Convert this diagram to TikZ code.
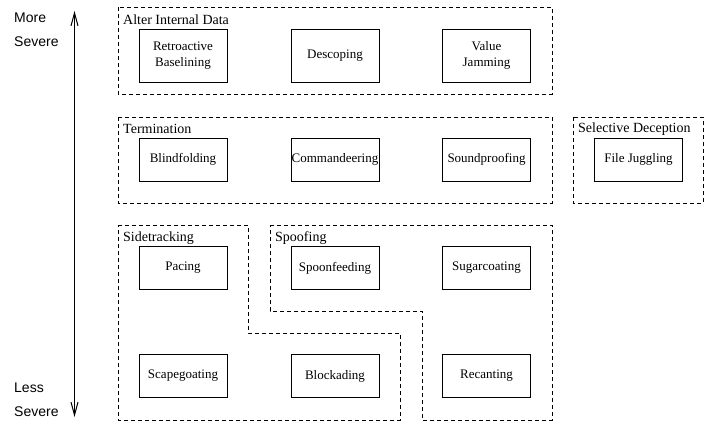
\documentclass[tikz,border=0pt]{standalone}
\usepackage{fontspec}
\setmainfont{Liberation Serif}
\newfontfamily\labsans{Liberation Sans}
\usetikzlibrary{arrows.meta}
\tikzset{
  grp/.style={draw, line width=0.9pt, dash pattern=on 4pt off 3pt},
  item/.style={draw, line width=1pt, minimum width=88pt, minimum height=53pt, inner sep=0pt, align=center, font=\fontsize{13}{16}\selectfont},
  itemb/.style={item, minimum height=43pt},
  glab/.style={anchor=west, inner sep=0pt, font=\fontsize{14}{16}\selectfont},
  sev/.style={anchor=west, inner sep=0pt, align=left, font=\labsans\fontsize{14}{24}\selectfont}
}
\begin{document}
\begin{tikzpicture}[x=1pt,y=-1pt]
\useasboundingbox (0,0) rectangle (710,423);
% severity arrow
\coordinate (atop) at (74.5,11);
\coordinate (abot) at (74.5,417);
\draw[line width=1pt, {Straight Barb[length=13pt,width=7pt]}-{Straight Barb[length=13pt,width=7pt]}] (atop) -- (abot);
\node[sev] (more) at (14,30) {More\\Severe};
\node[sev] (less) at (14,400) {Less\\Severe};
% Alter Internal Data
\draw[grp] (118,7) rectangle (552,94);
\node[glab] (galter) at (123,20) {Alter Internal Data};
\node[item] (retro) at (183,55.5) {Retroactive\\Baselining};
\node[item] (desc) at (335,55.5) {Descoping};
\node[item] (value) at (486.5,55.5) {Value\\Jamming};
% Termination
\draw[grp] (118,117) rectangle (552,203);
\node[glab] (gterm) at (123,129) {Termination};
\node[itemb] (blind) at (183,159.5) {Blindfolding};
\node[itemb] (comm) at (335,159.5) {Commandeering};
\node[itemb] (sound) at (486.5,159.5) {Soundproofing};
% Selective Deception
\draw[grp] (573,117) rectangle (703,203);
\node[glab] (gsel) at (578,129) {Selective Deception};
\node[itemb] (file) at (638.5,159.5) {File Juggling};
% Sidetracking
\draw[grp] (118,225) -- (248,225) -- (248,333) -- (400,333) -- (400,420) -- (118,420) -- cycle;
\node[glab] (gside) at (123,238) {Sidetracking};
% Spoofing
\draw[grp] (270,225) -- (552,225) -- (552,420) -- (422,420) -- (422,311) -- (270,311) -- cycle;
\node[glab] (gspoof) at (275,238) {Spoofing};
\node[itemb] (pacing) at (183,268) {Pacing};
\node[itemb] (spoon) at (335,268) {Spoonfeeding};
\node[itemb] (sugar) at (486.5,268) {Sugarcoating};
\node[itemb] (scape) at (183,376) {Scapegoating};
\node[itemb] (block) at (335,376) {Blockading};
\node[itemb] (recant) at (486.5,376) {Recanting};
\end{tikzpicture}
\end{document}
